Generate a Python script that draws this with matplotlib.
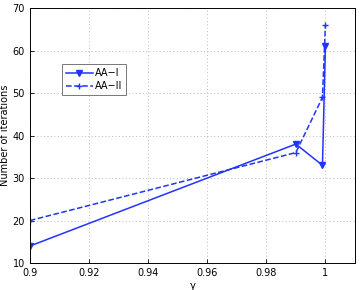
import matplotlib
matplotlib.use("Agg")
import matplotlib.pyplot as plt

gamma = [0.9, 0.99, 0.999, 1.0]
aa1 = [14, 38, 33, 61]
aa2 = [20, 36, 49, 66]
xticks = [0.9, 0.92, 0.94, 0.96, 0.98, 1.0]
xticklabels = ["0.9", "0.92", "0.94", "0.96", "0.98", "1"]
yticks = [10, 20, 30, 40, 50, 60, 70]

fig = plt.figure(figsize=(3.6, 2.9), dpi=100)
ax = fig.add_axes([0.083, 0.093, 0.903, 0.879])
ax.plot(gamma, aa1, '-', color='#2233ff', marker='v', markersize=4, lw=1.1, label='AA\u2212I')
ax.plot(gamma, aa2, '--', color='#2233ff', marker='+', markersize=4, lw=1.1, label='AA\u2212II')
ax.set_xlim(0.9, 1.01)
ax.set_ylim(10, 70)
ax.set_xticks(xticks)
ax.set_xticklabels(xticklabels)
ax.set_yticks(yticks)
ax.tick_params(labelsize=7, direction='in', length=3, width=0.6)
ax.grid(True, linestyle=(0, (1, 2.5)), color='#bbbbbb', lw=0.7)
for s in ax.spines.values():
    s.set_linewidth(0.7)
ax.set_xlabel('\u03b3', fontsize=7, labelpad=2)
ax.set_ylabel('Number of iterations', fontsize=7, labelpad=2)
leg = ax.legend(loc='upper left', bbox_to_anchor=(0.098, 0.78), fontsize=7, frameon=True,
                fancybox=False, edgecolor='#555555', handlelength=2.8, borderpad=0.4,
                labelspacing=0.35, handletextpad=0.2, borderaxespad=0)
leg.get_frame().set_linewidth(0.7)
fig.savefig('out.png', dpi=100)
